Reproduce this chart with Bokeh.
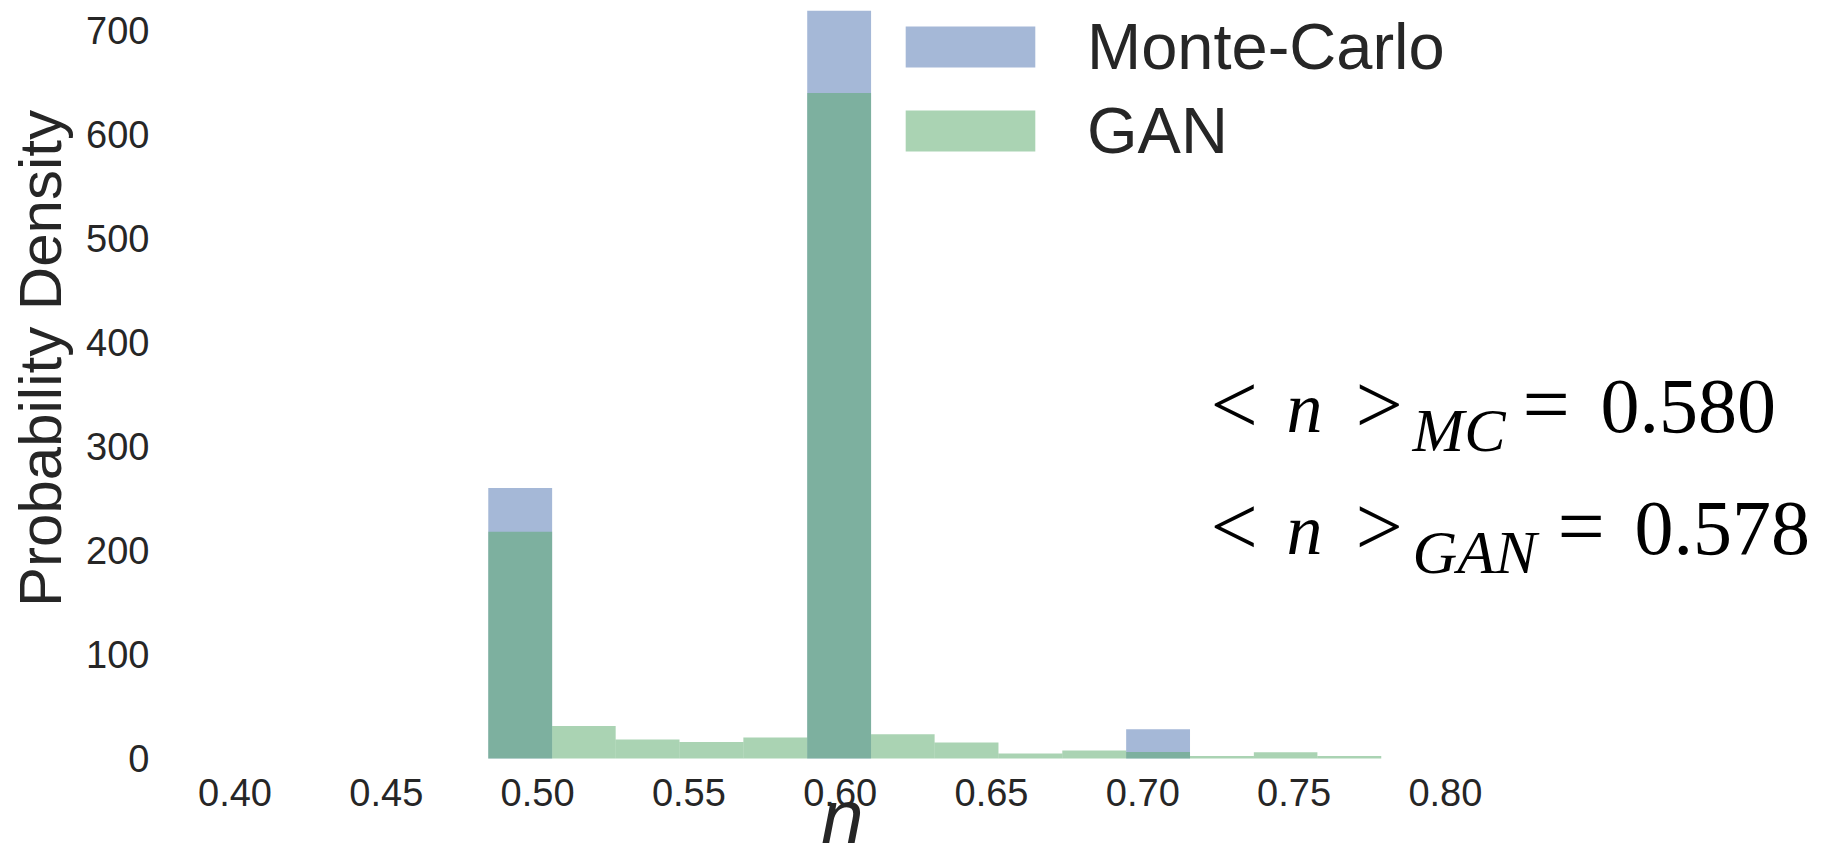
import math

from bokeh.plotting import figure
from bokeh.models import (ColumnDataSource, Legend, LegendItem, Label,
                          FixedTicker, NumeralTickFormatter)
from bokeh.embed import file_html
from bokeh.resources import INLINE

# Histogram bins of the filling fraction n (left / right edges)
bin_left = [0.4837, 0.5048, 0.5258, 0.5469, 0.5680, 0.5891, 0.6102,
            0.6312, 0.6523, 0.6734, 0.6945, 0.7156, 0.7367, 0.7577]
bin_right = [0.5048, 0.5258, 0.5469, 0.5680, 0.5891, 0.6102, 0.6312,
             0.6523, 0.6734, 0.6945, 0.7156, 0.7367, 0.7577, 0.7788]

# Probability densities per bin
mc_density = [260.0, 0.0, 0.0, 0.0, 0.0, 719.0, 0.0,
              0.0, 0.0, 0.0, 28.2, 0.0, 0.0, 0.0]
gan_density = [218.0, 31.3, 18.3, 15.9, 20.2, 640.0, 23.4,
               15.4, 4.8, 7.7, 6.3, 2.5, 6.1, 2.5]

# Axis ticks
x_ticks = [0.40, 0.45, 0.50, 0.55, 0.60, 0.65, 0.70, 0.75, 0.80]
y_ticks = [0, 100, 200, 300, 400, 500, 600, 700]

# Mean values quoted on the chart
mean_mc = "0.580"
mean_gan = "0.578"

W, H = 1829, 860
ZERO_ROW = 758              # canvas row of density 0
Y_AXIS_COL = 160            # canvas column where the y axis sits
PX_PER_N = 3026.0           # horizontal pixels per unit of n
TICK040_COL = 234.5         # canvas column of n = 0.40
PX_PER_DENSITY = 1.04

# the frame fills the whole canvas; axes are pinned inside it
x_start = 0.40 - TICK040_COL / PX_PER_N
x_end = x_start + W / PX_PER_N
y_start = -(H - ZERO_ROW) / PX_PER_DENSITY
y_end = ZERO_ROW / PX_PER_DENSITY
y_axis_at = x_start + Y_AXIS_COL / PX_PER_N

src = ColumnDataSource(dict(left=bin_left, right=bin_right,
                            mc=mc_density, gan=gan_density))

p = figure(width=W, height=H, output_backend="svg", toolbar_location=None,
           x_range=(x_start, x_end), y_range=(y_start, y_end),
           min_border=0, min_border_left=0, min_border_right=0,
           min_border_top=0, min_border_bottom=0)
p.outline_line_color = None
p.grid.visible = False
p.background_fill_color = "white"
p.border_fill_color = "white"

mc_r = p.quad(left="left", right="right", bottom=0, top="mc", source=src,
              fill_color="#4C72B0", fill_alpha=0.5, line_color=None)
gan_r = p.quad(left="left", right="right", bottom=0, top="gan", source=src,
               fill_color="#55A868", fill_alpha=0.5, line_color=None)

SANS = "Liberation Sans"
TEXT_GRAY = "#262626"
for ax in (p.xaxis, p.yaxis):
    ax.axis_line_color = None
    ax.major_tick_line_color = None
    ax.minor_tick_line_color = None
    ax.major_tick_out = 0
    ax.major_tick_in = 0
    ax.major_label_text_font = SANS
    ax.major_label_text_font_size = "38px"
    ax.major_label_text_color = TEXT_GRAY

p.xaxis.fixed_location = 0
p.xaxis.ticker = FixedTicker(ticks=x_ticks)
p.xaxis.formatter = NumeralTickFormatter(format="0.00")
p.xaxis.major_label_standoff = 20
p.yaxis.fixed_location = y_axis_at
p.yaxis.ticker = FixedTicker(ticks=y_ticks)
p.yaxis.major_label_standoff = 11

legend = Legend(items=[LegendItem(label="Monte-Carlo", renderers=[mc_r]),
                       LegendItem(label="GAN", renderers=[gan_r])],
                location=(889, H - 168), glyph_width=162, glyph_height=51,
                label_standoff=36, spacing=9, padding=0, margin=0,
                border_line_color=None, background_fill_alpha=0,
                label_text_font=SANS, label_text_font_size="65px",
                label_text_color=TEXT_GRAY)
p.add_layout(legend)

BASE_SHIFT = 0.35  # baseline correction, in em


def put(text, cx, base_y, size, italic=False, font="Liberation Serif",
        align="left", color="black", angle=0.0):
    """Place a text piece by canvas column and canvas baseline row."""
    dx = BASE_SHIFT * size * math.sin(angle)
    dy = BASE_SHIFT * size * math.cos(angle)
    p.add_layout(Label(x=cx - dx, y=H - (base_y - dy),
                       x_units="screen", y_units="screen", text=text,
                       text_font=font, text_font_size=f"{size}px",
                       text_font_style="italic" if italic else "normal",
                       text_baseline="alphabetic", text_align=align,
                       text_color=color, angle=angle))


# axis titles
put("Probability Density", 61, 358, 60, font=SANS, align="center",
    color=TEXT_GRAY, angle=math.pi / 2)
put("n", 842, 843, 76, italic=True, font=SANS, align="center",
    color=TEXT_GRAY)

# mean annotations: <n>_MC and <n>_GAN
for base, sub, val, eq_x, val_x in ((433, "MC", mean_mc, 1522, 1600),
                                    (555, "GAN", mean_gan, 1557, 1634)):
    put("<", 1210, base, 84)
    put("n", 1286, base, 72, italic=True)
    put(">", 1355, base, 84)
    put(sub, 1412, base + 18, 62, italic=True)
    put("=", eq_x, base, 84)
    put(val, val_x, base, 78)

open("out.html", "w").write(file_html(p, INLINE))
